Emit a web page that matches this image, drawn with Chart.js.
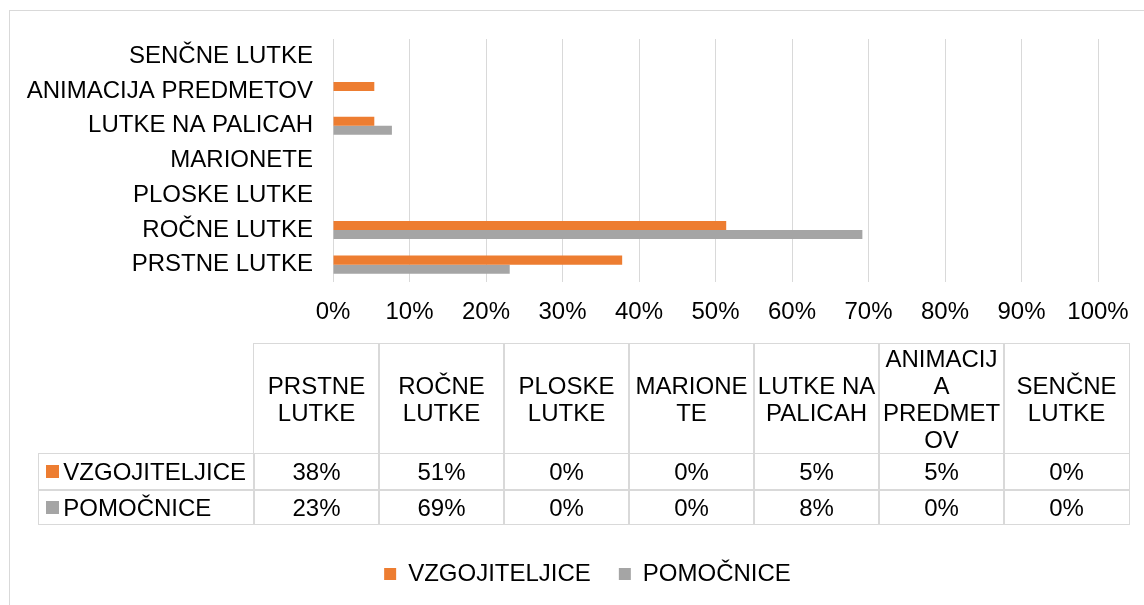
<!DOCTYPE html>
<html>
<head>
<meta charset="utf-8">
<script src="https://cdn.jsdelivr.net/npm/chart.js@4.4.1/dist/chart.umd.min.js"></script>
<style>
  html, body { margin: 0; padding: 0; background: #fff; width: 1144px; height: 605px; overflow: hidden; }
  body { position: relative; font-family: "Liberation Sans", Arial, sans-serif; color: #000; }
  #frame { position: absolute; left: 9px; top: 10px; width: 1200px; height: 700px; border: 1.5px solid #d9d9d9; box-sizing: border-box; }
  #wrap { position: absolute; left: 0; top: 0; width: 1175px; height: 605px; }
  .cell { position: absolute; box-sizing: border-box; border: 1.5px solid #d9d9d9; display: flex; align-items: center; justify-content: center; text-align: center; font-size: 24px; line-height: 27px; overflow-wrap: anywhere; word-break: normal; }
  .key { justify-content: flex-start; padding-left: 7px; }
  .sw { display: inline-block; width: 13px; height: 13px; margin-right: 4px; flex: none; }
</style>
</head>
<body>
<div id="frame"></div>
<div id="wrap"><canvas id="c" width="1175" height="605"></canvas></div>
<div id="table"></div>
<script>
// ---- data ----
const categories = ['PRSTNE LUTKE', 'ROČNE LUTKE', 'PLOSKE LUTKE', 'MARIONETE', 'LUTKE NA PALICAH', 'ANIMACIJA PREDMETOV', 'SENČNE LUTKE'];
const seriesNames = ['VZGOJITELJICE', 'POMOČNICE'];
const vzgojiteljice = [37.8, 51.4, 0, 0, 5.4, 5.4, 0];
const pomocnice = [23.1, 69.2, 0, 0, 7.7, 0, 0];
const xTickLabels = ['0%', '10%', '20%', '30%', '40%', '50%', '60%', '70%', '80%', '90%', '100%'];
const seriesColors = ['#ED7D31', '#A5A5A5'];

const FONT = { family: '"Liberation Sans", Arial, sans-serif', size: 24 };

// centre the legend under the whole (wider) chart frame, like the original
const legendShift = {
  id: 'legendShift',
  afterLayout(chart) {
    if (chart.legend) { chart.legend.left += 38.5; chart.legend.right += 38.5; }
  }
};

const ctx = document.getElementById('c').getContext('2d');
new Chart(ctx, {
  type: 'bar',
  data: {
    labels: categories,
    datasets: [
      { label: seriesNames[0], data: vzgojiteljice, backgroundColor: seriesColors[0], borderWidth: 0 },
      { label: seriesNames[1], data: pomocnice, backgroundColor: seriesColors[1], borderWidth: 0 }
    ]
  },
  plugins: [legendShift],
  options: {
    indexAxis: 'y',
    responsive: false,
    animation: false,
    events: [],
    categoryPercentage: 0.52,
    barPercentage: 1.0,
    layout: { padding: { left: 0, right: 77, top: 39, bottom: 9 } },
    scales: {
      x: {
        min: 0, max: 100,
        ticks: {
          stepSize: 10,
          color: '#000',
          font: FONT,
          padding: 16,
          maxRotation: 0,
          callback: (v, i) => xTickLabels[i]
        },
        grid: { color: '#d9d9d9', lineWidth: 1, drawTicks: false },
        border: { display: false },
        afterFit: (s) => { s.height = 252; }
      },
      y: {
        reverse: true,
        ticks: { color: '#000', font: FONT, padding: 20 },
        grid: { display: false, drawTicks: false },
        border: { display: false },
        afterFit: (s) => { s.width = 333; }
      }
    },
    plugins: {
      legend: {
        position: 'bottom',
        labels: { color: '#000', font: FONT, boxWidth: 12, boxHeight: 12, padding: 28 }
      },
      tooltip: { enabled: false }
    }
  }
});

// ---- data table under the chart ----
const tbl = document.getElementById('table');
const TL = 253.3, CW = 125, KL = 38.3;
const rowTops = [343.3, 452.7, 489.3, 523.3];
function cell(x, y, w, h, html, cls) {
  const d = document.createElement('div');
  d.className = 'cell' + (cls ? ' ' + cls : '');
  d.style.left = x + 'px'; d.style.top = y + 'px';
  d.style.width = (w + 1.5) + 'px'; d.style.height = (h + 1.5) + 'px';
  d.innerHTML = html;
  tbl.appendChild(d);
  return d;
}
categories.forEach((c, i) => {
  cell(TL + i * CW, rowTops[0], CW, rowTops[1] - rowTops[0], '<span>' + c + '</span>');
});
const seriesData = [vzgojiteljice, pomocnice];
seriesNames.forEach((name, r) => {
  const y = rowTops[r + 1], h = rowTops[r + 2] - rowTops[r + 1];
  cell(KL, y, TL - KL, h, '<span class="sw" style="background:' + seriesColors[r] + '"></span><span>' + name + '</span>', 'key');
  seriesData[r].forEach((v, i) => {
    cell(TL + i * CW, y, CW, h, Math.round(v) + '%');
  });
});
</script>
</body>
</html>
